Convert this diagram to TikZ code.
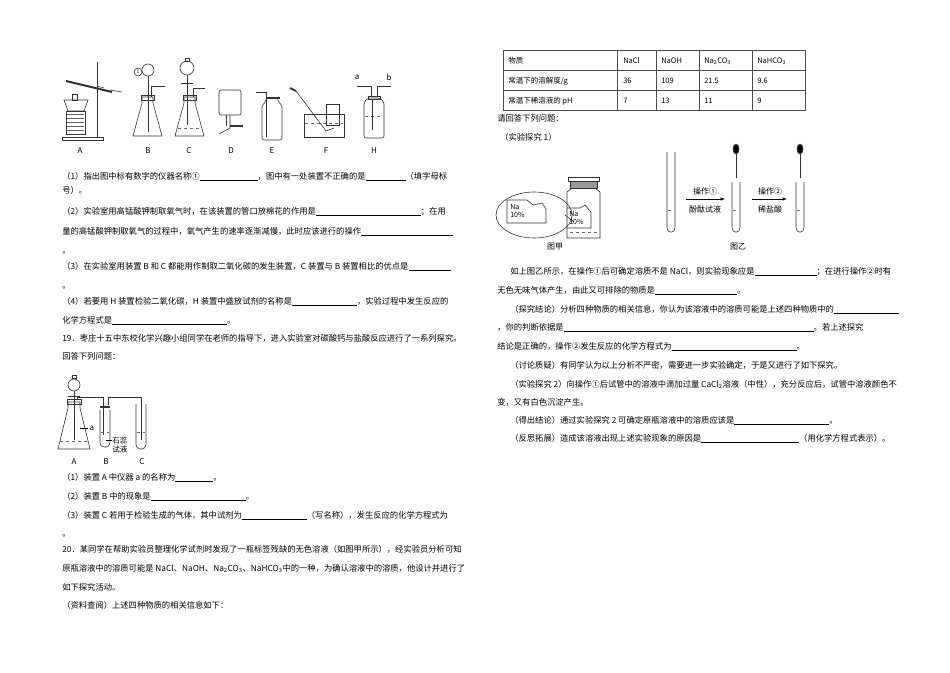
\documentclass[tikz,border=0pt]{standalone}
\usepackage{fontspec}
\setmainfont{Noto Sans CJK SC}
\newcommand{\blank}[1]{\rule[-1.5pt]{#1pt}{0.5pt}}
\begin{document}
\begin{tikzpicture}[x=1pt,y=-1pt,line width=0.6pt,
  txt/.style={anchor=base west,inner sep=0pt,font=\fontsize{8.3}{10}\selectfont},
  lab/.style={inner sep=0pt,font=\fontsize{8}{10}\selectfont},
  glass/.style={draw=black!80,line width=0.6pt},
  liq/.style={draw=black!60,dashed,line width=0.4pt}]
\useasboundingbox[fill=white] (0,0) rectangle (950,672);
% ---------- top-left apparatus ----------
% A
\draw[glass] (62,137) rectangle (103,140);
\draw[glass] (97,62) -- (97,137);
\draw[glass,line width=2pt] (66,81) -- (112,92);
\draw[glass] (110,90) -- (122,92);
\draw[glass] (97,86) -- (104,88);
\draw[glass] (66,111) rectangle (85,134);
\foreach \y in {114,118,...,132} \draw[black!60,line width=0.3pt] (67,\y) -- (84,\y);
\draw[glass] (64,100) -- (88,100) -- (84,111) -- (68,111) -- cycle;
\draw[glass] (72,94) rectangle (77,100);
\node[lab] (lA) at (80,151) {A};
% B
\draw[glass] (133,136) -- (142,103) -- (142,97) -- (153,97) -- (153,103) -- (162,136) -- cycle;
\draw[glass] (141,95) rectangle (154,100);
\draw[glass] (148,70) circle (6);
\draw[glass] (148,76) -- (148,132);
\draw[glass] (151,97) -- (151,86) -- (165,86);
\draw[glass] (138,72) circle (4);
\node[lab,font=\fontsize{5}{6}\selectfont] at (138,72) {1};
\node[lab] (lB) at (148,151) {B};
% C
\draw[glass] (175,136) -- (184,103) -- (184,97) -- (195,97) -- (195,103) -- (204,136) -- cycle;
\draw[liq] (178,128) -- (201,128);
\draw[glass] (183,95) rectangle (196,100);
\draw[glass] (187,68) circle (7);
\draw[glass] (185,58) rectangle (189,61);
\draw[glass] (187,75) -- (187,125);
\draw[glass] (181,83) -- (193,83);
\draw[glass] (193,97) -- (193,88) -- (205,88);
\node[lab] (lC) at (189,151) {C};
% D
\draw[glass,rounded corners=2pt] (219,90) rectangle (241,115);
\draw[glass] (226,115) -- (226,126);
\draw[glass] (230,115) -- (230,128) -- (219,134);
\draw[glass,line width=1.5pt] (230,126) -- (243,126);
\node[lab] (lD) at (231,151) {D};
% E
\draw[glass,rounded corners=2pt] (262,140) -- (262,105) -- (266,102) -- (266,98) -- (278,98) -- (278,102) -- (282,105) -- (282,140) -- cycle;
\draw[glass,line width=1.5pt] (266,98) -- (280,98);
\draw[glass] (266,137) -- (266,92) -- (256,92);
\node[lab] (lE) at (272,151) {E};
% F
\draw[glass] (304,114) rectangle (344,137);
\draw[liq] (305,123) -- (343,123);
\draw[glass] (326,104) rectangle (339,125);
\draw[glass,line width=2pt] (290,88) -- (296,91);
\draw[glass] (296,91) -- (326,131) -- (334,128);
\node[lab] (lF) at (326,151) {F};
% H
\draw[glass,rounded corners=2pt] (364,138) -- (364,102) -- (368,98) -- (380,98) -- (384,102) -- (384,138) -- cycle;
\draw[liq] (365,116) -- (383,116);
\draw[glass] (368,96) rectangle (380,99);
\draw[glass] (371,96) -- (371,86) -- (357,86);
\draw[glass] (377,96) -- (377,86) -- (391,86);
\draw[glass] (372,99) -- (372,130);
\node[lab] (la) at (357,77) {a};
\node[lab] (lb) at (389,77) {b};
\node[lab] (lH) at (374,151) {H};
% ---------- left column text ----------
\node[txt] at (62,179) {（1）指出图中标有数字的仪器名称①\blank{58}，图中有一处装置不正确的是\blank{40}（填字母标};
\node[txt] at (62,193) {号）。};
\node[txt] at (62,214) {（2）实验室用高锰酸钾制取氧气时，在该装置的管口放棉花的作用是\blank{105}；在用};
\node[txt] at (62,234) {量的高锰酸钾制取氧气的过程中，氧气产生的速率逐渐减慢，此时应该进行的操作\blank{92}};
\node[txt] at (62,253) {。};
\node[txt] at (62,269) {（3）在实验室用装置 B 和 C 都能用作制取二氧化碳的发生装置，C 装置与 B 装置相比的优点是\blank{42}};
\node[txt] at (62,288) {。};
\node[txt] at (62,304) {（4）若要用 H 装置检验二氧化碳，H 装置中盛放试剂的名称是\blank{65}，实验过程中发生反应的};
\node[txt] at (62,323) {化学方程式是\blank{115}。};
\node[txt] at (62,341) {19．枣庄十五中东校化学兴趣小组同学在老师的指导下，进入实验室对碳酸钙与盐酸反应进行了一系列探究。};
\node[txt] at (62,359) {回答下列问题：};
% lower-left apparatus
\draw[glass] (58,449) -- (68,408) -- (68,402) -- (80,402) -- (80,408) -- (90,449) -- cycle;
\draw[liq] (60,441) -- (88,441);
\draw[glass] (67,399) rectangle (81,404);
\draw[glass] (74,385) circle (6);
\draw[glass] (72,375) rectangle (76,378);
\draw[glass] (74,391) -- (74,440);
\draw[glass] (68,396) -- (80,396);
\draw[glass] (77,399) -- (77,397) -- (103,397) -- (103,435);
\draw (80,428) -- (88,428);
\node[lab] (la2) at (92,428) {a};
\draw[glass] (100,410) -- (100,442) .. controls (100,449) and (110,449) .. (110,442) -- (110,410);
\draw[glass,line width=1.5pt] (100,407) -- (110,407);
\draw[glass] (108,405) -- (108,397) -- (141,397) -- (141,440);
\draw[glass] (136,404) -- (136,444) .. controls (136,451) and (146,451) .. (146,444) -- (146,404);
\draw[liq] (101,432) -- (109,432);
\draw[liq] (137,432) -- (145,432);
\draw (106,440) -- (112,440);
\node[lab,anchor=west,font=\fontsize{7.5}{8.5}\selectfont,align=left] at (112,445) {石蕊\\试液};
\node[lab] (lA2) at (74,462) {A};
\node[lab] (lB2) at (106,462) {B};
\node[lab] (lC2) at (142,462) {C};
\node[txt] at (62,480) {（1）装置 A 中仪器 a 的名称为\blank{38}。};
\node[txt] at (62,499) {（2）装置 B 中的现象是\blank{95}。};
\node[txt] at (62,518) {（3）装置 C 若用于检验生成的气体，其中试剂为\blank{65}（写名称），发生反应的化学方程式为};
\node[txt] at (62,536) {。};
\node[txt] at (62,552) {20．某同学在帮助实验员整理化学试剂时发现了一瓶标签残缺的无色溶液（如图甲所示），经实验员分析可知};
\node[txt] at (62,571) {原瓶溶液中的溶质可能是 NaCl、NaOH、Na\textsubscript{2}CO\textsubscript{3}、NaHCO\textsubscript{3}中的一种，为确认溶液中的溶质，他设计并进行了};
\node[txt] at (62,590) {如下探究活动。};
\node[txt] at (62,608) {（资料查阅）上述四种物质的相关信息如下：};
% ---------- right column: table ----------
\draw[line width=1pt,black!70] (503,50) rectangle (805,110);
\foreach \y in {70,90} \draw[line width=1pt,black!70] (503,\y) -- (805,\y);
\foreach \x in {617,656,699,752} \draw[line width=1pt,black!70] (\x,50) -- (\x,110);
\tikzset{cell/.style={anchor=base west,inner sep=0pt,font=\fontsize{7.5}{9}\selectfont}}
\node[cell] at (508,63) {物质};
\node[cell] at (623,63) {NaCl};
\node[cell] at (661,63) {NaOH};
\node[cell] at (704,63) {Na\textsubscript{2}CO\textsubscript{3}};
\node[cell] at (757,63) {NaHCO\textsubscript{3}};
\node[cell] at (508,83) {常温下的溶解度/g};
\node[cell] at (623,83) {36};
\node[cell] at (661,83) {109};
\node[cell] at (704,83) {21.5};
\node[cell] at (757,83) {9.6};
\node[cell] at (508,103) {常温下稀溶液的 pH};
\node[cell] at (623,103) {7};
\node[cell] at (661,103) {13};
\node[cell] at (704,103) {11};
\node[cell] at (757,103) {9};
\node[txt] at (497,121) {请回答下列问题：};
\node[txt] at (500,140) {（实验探究 1）};
% 图甲
\draw[glass] (534,215) ellipse (38 and 23);
\draw[glass] (565,215) -- (574,222);
\draw[glass] (507,200) -- (527,200) -- (533,205) -- (542,203) -- (546,209) -- (546,223) -- (507,223) -- cycle;
\node[lab,align=left,anchor=north west,font=\fontsize{7}{8}\selectfont] at (510,204) {Na\\10\%};
\draw[glass] (567,238) -- (567,192) -- (572,188) -- (595,188) -- (600,192) -- (600,238) -- cycle;
\draw[glass,fill=black!40] (570,181) rectangle (597,188);
\draw[glass] (568,177) rectangle (599,181);
\draw[glass] (567,208) -- (580,208) -- (585,205) -- (591,212) -- (591,228) -- (567,228);
\node[lab,align=left,anchor=north west,font=\fontsize{7}{8}\selectfont] at (569,211) {Na\\10\%};
\draw[liq] (570,232) -- (597,232);
\node[lab] (tj) at (555,247) {图甲};
% 图乙
\draw[glass] (667,152) -- (667,227) .. controls (667,234) and (675,234) .. (675,227) -- (675,152);
\draw[liq] (668,210) -- (674,210);
\draw[-latex,line width=0.5pt] (686,199) -- (725,199);
\node[lab] at (705,191) {操作①};
\node[lab] at (705,209) {酚酞试液};
\draw[glass] (732,182) -- (732,227) .. controls (732,234) and (740,234) .. (740,227) -- (740,182);
\draw[liq] (733,210) -- (739,210);
\draw[glass,fill=black] (736,149) ellipse (3 and 5);
\draw[glass] (736,154) -- (736,178);
\draw[-latex,line width=0.5pt] (752,199) -- (787,199);
\node[lab] at (770,191) {操作②};
\node[lab] at (770,209) {稀盐酸};
\draw[glass] (796,182) -- (796,227) .. controls (796,234) and (804,234) .. (804,227) -- (804,182);
\draw[liq] (797,210) -- (803,210);
\draw[glass,fill=black] (800,149) ellipse (3 and 5);
\draw[glass] (800,154) -- (800,178);
\node[lab] (ty) at (738,247) {图乙};
% right column text
\node[txt] at (510,274) {如上图乙所示，在操作①后可确定溶质不是 NaCl，则实验现象应是\blank{62}；在进行操作②时有};
\node[txt] at (497,293) {无色无味气体产生，由此又可排除的物质是\blank{82}。};
\node[txt] at (510,312) {（探究结论）分析四种物质的相关信息，你认为该溶液中的溶质可能是上述四种物质中的\blank{65}};
\node[txt] at (497,330) {，你的判断依据是\blank{250}。若上述探究};
\node[txt] at (497,349) {结论是正确的，操作②发生反应的化学方程式为\blank{125}。};
\node[txt] at (510,368) {（讨论质疑）有同学认为以上分析不严密，需要进一步实验确定，于是又进行了如下探究。};
\node[txt] at (510,387) {（实验探究 2）向操作①后试管中的溶液中滴加过量 CaCl\textsubscript{2}溶液（中性），充分反应后，试管中溶液颜色不};
\node[txt] at (497,405) {变，又有白色沉淀产生。};
\node[txt] at (510,423) {（得出结论）通过实验探究 2 可确定原瓶溶液中的溶质应该是\blank{95}。};
\node[txt] at (510,441) {（反思拓展）造成该溶液出现上述实验现象的原因是\blank{98}（用化学方程式表示）。};
\end{tikzpicture}
\end{document}
